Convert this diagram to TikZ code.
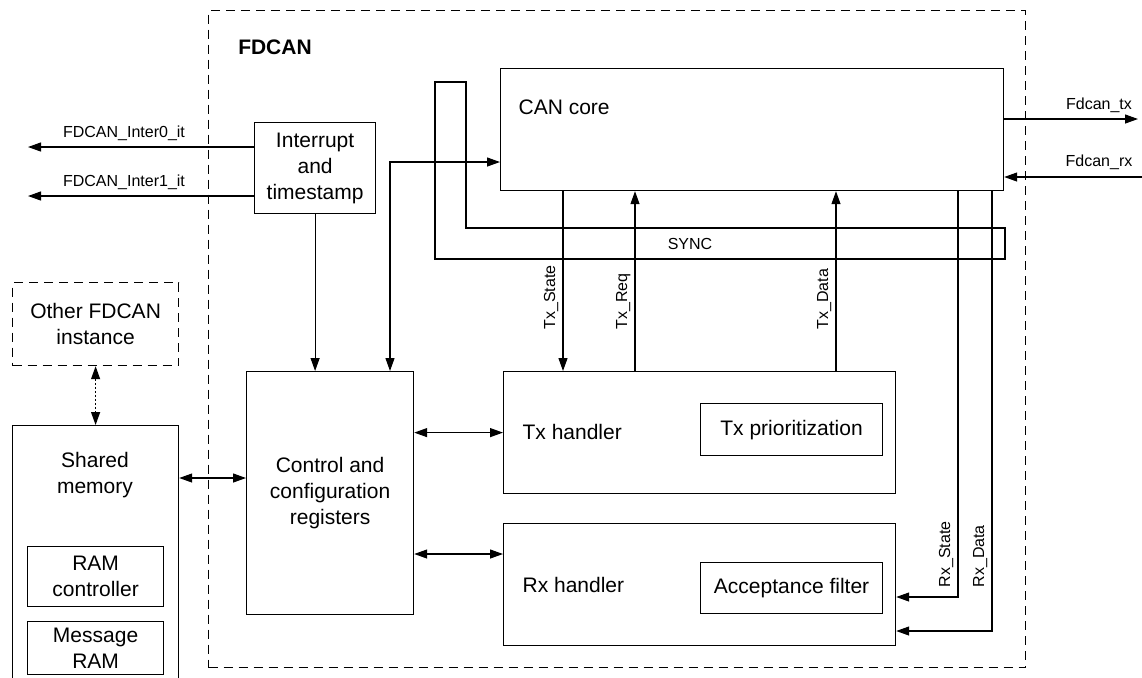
\documentclass[tikz,border=0pt]{standalone}
\usepackage{fontspec}
\setmainfont{Liberation Sans}
\usetikzlibrary{arrows.meta}

\begin{document}
\begin{tikzpicture}[x=0.5pt,y=-0.5pt,line width=0.6pt,
		>={Triangle[length=6.5pt,width=4.5pt]},
		blk/.style={draw,inner sep=0pt,anchor=north west,align=center,font=\fontsize{10.5}{13}\selectfont},
		txt/.style={inner sep=0pt,align=center,font=\fontsize{10.5}{13}\selectfont},
		sig/.style={inner sep=1pt,font=\fontsize{8}{9.6}\selectfont},
		dsh/.style={dash pattern=on 4.5pt off 3pt}]
			\useasboundingbox (0,0) rectangle (1142,677);
			\clip (0,0) rectangle (1142,677);

			% FDCAN frame
			\node[blk,dsh,minimum width=408.5pt,minimum height=328.5pt] (fdcan) at (208,10) {};
			\node[txt,font=\fontsize{10.5}{13}\selectfont\bfseries] (fdcanlab) at (275,47) {FDCAN};

			% blocks inside
			\node[blk,minimum width=251.5pt,minimum height=61pt] (cancore) at (500,68) {};
			\node[txt,anchor=west] (canlab) at (518,107) {CAN core};
			\node[blk,minimum width=60.5pt,minimum height=45.5pt] (intr) at (254,122) {Interrupt\\and\\timestamp};
			\node[blk,minimum width=83.5pt,minimum height=121.5pt] (ctrl) at (246,371) {Control and\\configuration\\registers};
			\node[blk,minimum width=196pt,minimum height=61pt] (txh) at (503,371) {};
			\node[blk,minimum width=196pt,minimum height=61pt] (rxh) at (503,523) {};
			\node[txt,anchor=west] (txlab) at (522,432) {Tx handler};
			\node[txt,anchor=west] (rxlab) at (522,585) {Rx handler};
			\node[blk,minimum width=91pt,minimum height=26pt] (txprio) at (700,403) {Tx prioritization};
			\node[blk,minimum width=91pt,minimum height=25.5pt] (accf) at (700,562) {Acceptance filter};

			% outside the frame
			\node[blk,dsh,minimum width=83pt,minimum height=41.5pt] (other) at (12,282) {Other FDCAN\\instance};
			\node[blk,minimum width=83pt,minimum height=140pt] (shmem) at (12,425) {};
			\node[txt] (shlab) at (95,475) {Shared\\memory};
			\node[blk,minimum width=68pt,minimum height=30pt] (ramctl) at (27,546) {RAM\\controller};
			\node[blk,minimum width=68pt,minimum height=26.5pt] (msgram) at (27,621) {Message\\RAM};

			% SYNC loop
			\draw (435,82) -- (466,82) -- (466,228) -- (1005,228) -- (1005,259) -- (435,259) -- cycle;
			\node[sig] (synclab) at (690,244) {SYNC};

			% interrupt lines
			\foreach \yy/\txt [count=\k] in {147/FDCAN\_Inter0\_it,196/FDCAN\_Inter1\_it}{
				\coordinate (it\k) at (28,\yy);
				\draw[->] (intr.west |- it\k) -- (it\k);
				\node[sig] (itlab\k) at (124,\yy-14) {\txt};
			}
			\draw[->] (intr.south) -- (intr.south |- ctrl.north);

			\coordinate (bend) at (390,162);
			\draw[<->] (bend |- ctrl.north) -- (bend) -- (bend -| cancore.west);

			% bus pins
			\coordinate (txout) at (1138,119);
			\coordinate (rxin) at (1142,177);
			\draw[->] (cancore.east |- txout) -- (txout);
			\draw[->] (rxin) -- (rxin -| cancore.east);
			\node[sig] (txoutlab) at (1099,105) {Fdcan\_tx};
			\node[sig] (rxinlab) at (1099,162) {Fdcan\_rx};

			% tx / rx signals
			\foreach \xx/\txt/\dir [count=\k] in {563/Tx\_State/->,635/Tx\_Req/<-,836/Tx\_Data/<-}{
				\draw[\dir] (cancore.south -| \xx,0) -- (txh.north -| \xx,0);
				\node[sig,rotate=90,anchor=south west] (txsig\k) at (\xx-2,332) {\txt};
			}
			\foreach \xx/\yy/\txt [count=\k] in {958/597/Rx\_State,992/631/Rx\_Data}{
				\draw[->] (cancore.south -| \xx,0) |- (rxh.east |- 0,\yy);
				\node[sig,rotate=90,anchor=south west] (rxsig\k) at (\xx-2,590) {\txt};
			}

			\draw[<->] (ctrl.east |- txh.west) -- (txh.west);
			\draw[<->] (ctrl.east |- 0,554) -- (rxh.west |- 0,554);
			\draw[<->] (shmem.east |- 0,478) -- (ctrl.west |- 0,478);
			\draw[<->,dash pattern=on 1pt off 1pt] (other.south) -- (shmem.north);
		\end{tikzpicture}
\end{document}
